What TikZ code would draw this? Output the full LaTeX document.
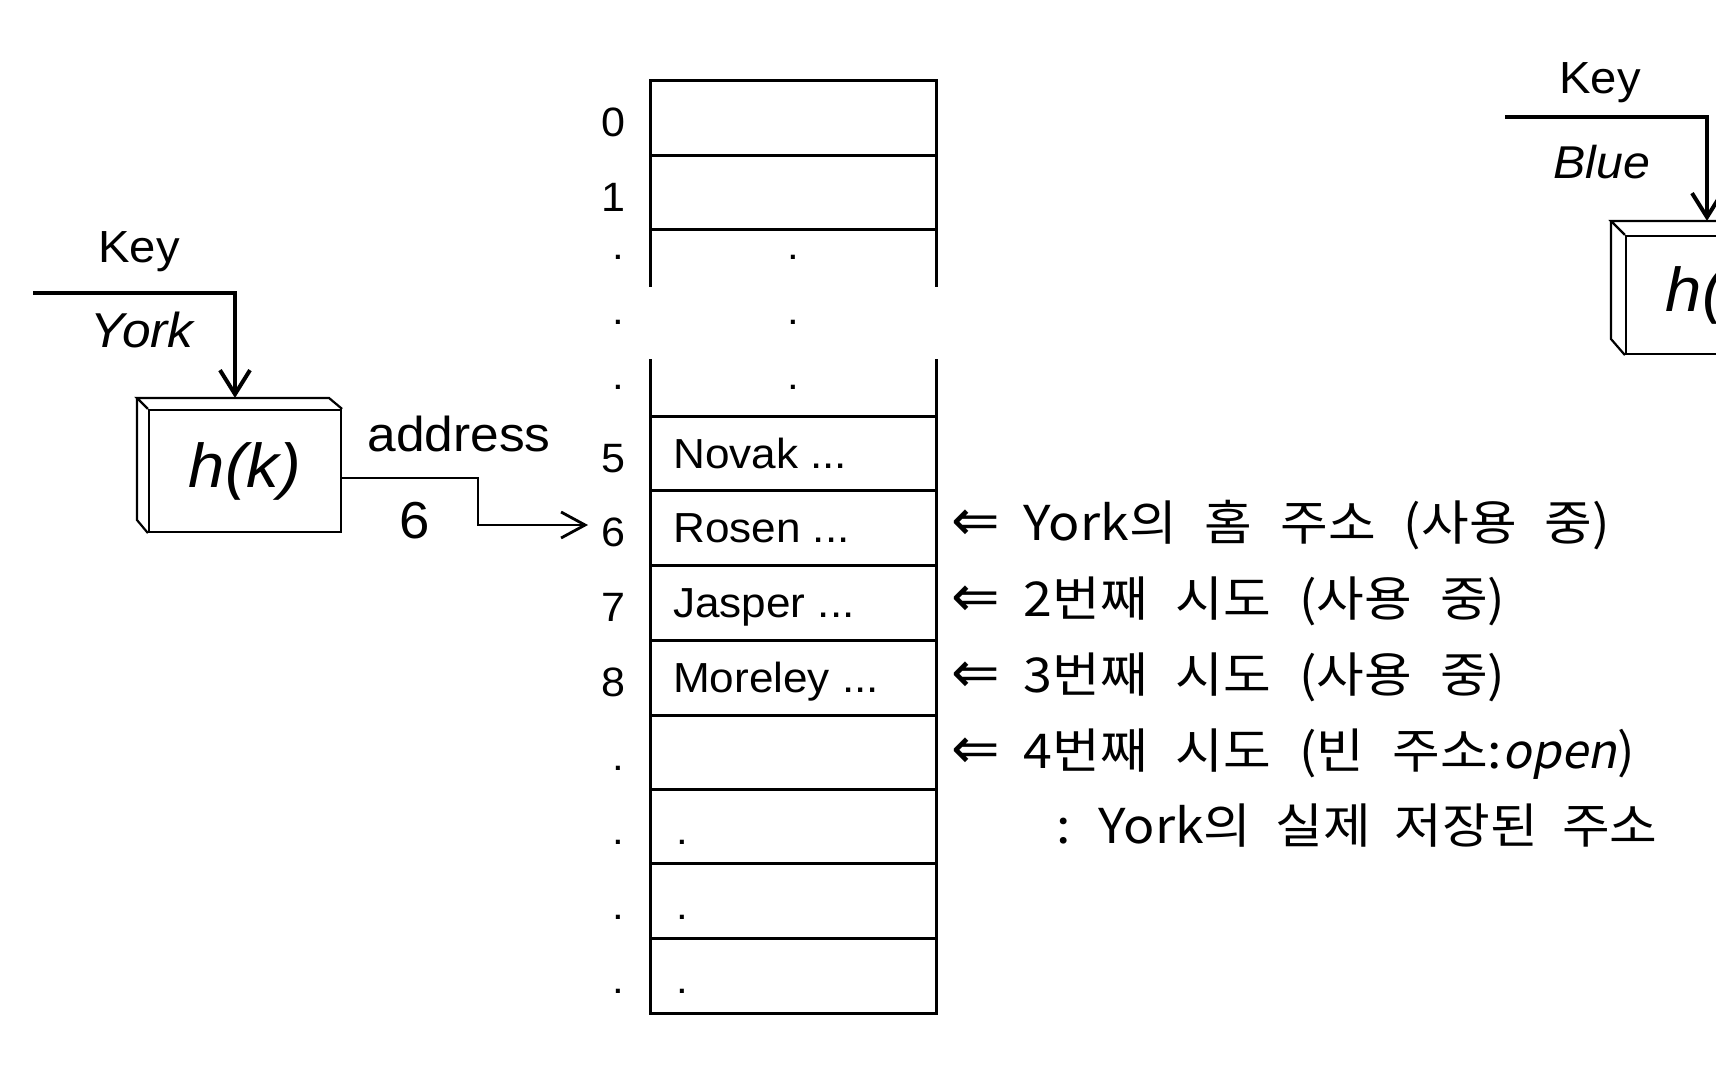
\documentclass[tikz,border=0pt]{standalone}
\usepackage{fontspec}
\setmainfont{Liberation Sans}[FakeStretch=1.05]
\newfontfamily\kr{Noto Sans CJK KR}[FakeStretch=1.08]
\newfontfamily\krit{Noto Sans CJK KR}[FakeStretch=1.0,FakeSlant=0.2]
\newfontfamily\arr{DejaVu Sans}
\usetikzlibrary{arrows.meta}
\newcommand\wgap{\hspace{28pt}}
\newcommand\wgapb{\hspace{24pt}}
\tikzset{
  lbl/.style={inner sep=0pt, anchor=base},
  celltxt/.style={inner sep=0pt, anchor=base west, font=\fontsize{42}{44}\selectfont},
  idx/.style={inner sep=0pt, anchor=base east, font=\fontsize{41}{43}\selectfont},
  dotl/.style={inner sep=0pt, anchor=base, font=\fontsize{40}{42}\selectfont},
  tbl/.style={line width=3pt, line cap=rect},
  keyline/.style={line width=4pt, line join=miter, -{Straight Barb[length=24pt,width=30pt]}},
  addr/.style={line width=2.8pt, line join=miter, -{Straight Barb[length=24pt,width=26pt]}},
  hbox/.style={draw, line width=2.2pt, minimum width=192pt, inner sep=0pt, font=\itshape\fontsize{62}{64}\selectfont},
  boxback/.style={line width=2.2pt, line join=miter},
  krline/.style={inner sep=0pt, anchor=base west, font=\kr\fontsize{48}{52}\selectfont}
}
\begin{document}
\begin{tikzpicture}[x=1pt,y=-1pt]
\useasboundingbox (0,0) rectangle (1716,1082);
\fill[white] (0,0) rectangle (1716,1082);
\clip (0,0) rectangle (1716,1082);

% ---- left hash box ----
\node[hbox, minimum height=122pt] (hk) at (245,471) {\raisebox{-8pt}{h(k)}};
\draw[boxback] (hk.north west) -- ++(-11,-11) coordinate (hkb) -- ++(192,0) -- (hk.north east);
\draw[boxback] (hkb) -- ++(0,122) -- (hk.south west);
\node[lbl, font=\fontsize{45}{47}\selectfont] (key1) at (139,262) {Key};
\node[lbl, font=\itshape\fontsize{49}{51}\selectfont] (york) at (142,347) {York};
\coordinate (ks1) at (33,293);
\coordinate (kin1) at ([xshift=-10pt,yshift=11pt]hk.north);
\draw[keyline] (ks1) -| (kin1);

% address arrow
\node[lbl, font=\fontsize{49}{51}\selectfont] (addrl) at (459,451) {address};
\node[lbl, font=\fontsize{52}{54}\selectfont] (six) at (415,538) {6};
\coordinate (a0) at ([yshift=-7pt]hk.east);
\coordinate (tip6) at (588,525);
\draw[addr] (a0) -- (478,478) |- (tip6);

% ---- table ----
\foreach \yy in {80,155,229,416,490,565,640,715,789,863,938,1013}
  \draw[tbl] (650,\yy) -- (936,\yy);
\draw[tbl] (650,80) -- (650,285) (650,360) -- (650,1013);
\draw[tbl] (936,80) -- (936,285) (936,360) -- (936,1013);

% indices
\node[idx] (i0) at (626,136) {0};
\node[idx] (i1) at (626,211) {1};
\node[idx] (i5) at (626,472) {5};
\node[idx] (i6) at (626,546) {6};
\node[idx] (i7) at (626,621) {7};
\node[idx] (i8) at (626,696) {8};
\node[dotl] (d1) at (618,259.5) {.};
\node[dotl] (d2) at (618,324.5) {.};
\node[dotl] (d3) at (618,389.5) {.};
\node[dotl] (d4) at (618,770.5) {.};
\node[dotl] (d5) at (618,844.5) {.};
\node[dotl] (d6) at (618,919.5) {.};
\node[dotl] (d7) at (618,993.5) {.};
% cell dots
\node[dotl] (c1) at (793,259.5) {.};
\node[dotl] (c2) at (793,324.5) {.};
\node[dotl] (c3) at (793,389.5) {.};
\node[dotl] (c5) at (682,844.5) {.};
\node[dotl] (c6) at (682,919.5) {.};
\node[dotl] (c7) at (682,993.5) {.};
% cell texts
\node[celltxt] (novak) at (673,468) {Novak ...};
\node[celltxt] (rosen) at (673,542) {Rosen ...};
\node[celltxt] (jasper) at (673,617) {Jasper ...};
\node[celltxt] (moreley) at (673,692) {Moreley ...};

% ---- right side notes ----
\node[krline] (l1) at (951,540) {{\arr\fontsize{58}{60}\selectfont ⇐}\hspace{24pt}York의\wgap 홈\wgap 주소\wgap (사용\wgap 중)};
\node[krline] (l2) at (951,616) {{\arr\fontsize{58}{60}\selectfont ⇐}\hspace{24pt}2번째\wgap 시도\wgap (사용\wgap 중)};
\node[krline] (l3) at (951,692) {{\arr\fontsize{58}{60}\selectfont ⇐}\hspace{24pt}3번째\wgap 시도\wgap (사용\wgap 중)};
\node[krline] (l4) at (951,768) {{\arr\fontsize{58}{60}\selectfont ⇐}\hspace{24pt}4번째\wgap 시도\wgap (빈\wgap 주소:{\krit open})};
\node[krline] (l5) at (1056,843) {:\wgap York의\wgapb 실제\wgapb 저장된\wgapb 주소};

% ---- right (partial) hash box ----
\node[hbox, minimum height=118pt] (hb) at (1722,295) {\raisebox{-8pt}{h(k)}};
\draw[boxback] (hb.north west) -- ++(-14,-14) coordinate (hbb) -- ++(192,0) -- (hb.north east);
\draw[boxback] (hbb) -- ++(0,118) -- (hb.south west);
\node[lbl, font=\fontsize{45}{47}\selectfont] (key2) at (1600,93) {Key};
\node[lbl, font=\itshape\fontsize{46}{48}\selectfont] (blue) at (1602,178) {Blue};
\coordinate (ks2) at (1505,117);
\coordinate (kin2) at ([xshift=-15pt,yshift=14pt]hb.north);
\draw[keyline] (ks2) -| (kin2);
\end{tikzpicture}
\end{document}
